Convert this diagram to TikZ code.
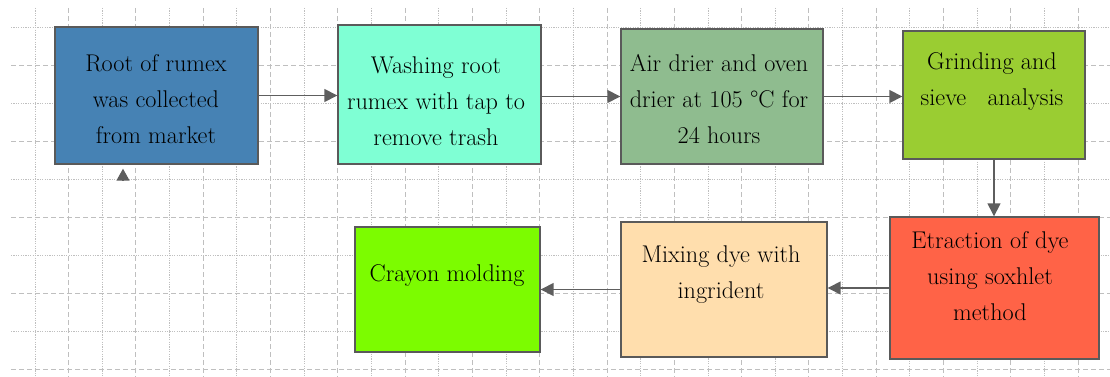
\documentclass[tikz,border=0pt]{standalone}
\usetikzlibrary{arrows.meta}

\definecolor{gridgray}{HTML}{BFBFBF}
\definecolor{edgegray}{HTML}{5A5A5A}
\definecolor{arrowgray}{HTML}{5E5E5E}
\definecolor{boxA}{HTML}{4682B4}
\definecolor{boxB}{HTML}{7FFFD4}
\definecolor{boxC}{HTML}{8FBC8F}
\definecolor{boxD}{HTML}{9ACD32}
\definecolor{boxE}{HTML}{FF6347}
\definecolor{boxF}{HTML}{FFDEAD}
\definecolor{boxG}{HTML}{7CFC00}

\begin{document}
\begin{tikzpicture}[x=1pt,y=-1pt,
  gridminor/.style={draw=gridgray,line width=1pt,dash pattern=on 1.2pt off 1.2pt},
  gridmajor/.style={draw=gridgray,line width=1pt,dash pattern=on 5pt off 3pt},
  stepbox/.style={draw=edgegray,line width=1.4pt,rectangle,inner sep=0pt},
  lbl/.style={align=center,inner sep=0pt,text=black,font=\fontsize{24.2}{36}\selectfont},
  arr/.style={draw=arrowgray,line width=1.5pt,-{Triangle[length=13pt,width=13pt]}}
]
\useasboundingbox (0,0) rectangle (1110,377);

% background grid
\foreach \k in {0,...,31}{
  \pgfmathsetmacro{\gx}{35+33.65*\k}
  \pgfmathparse{int(mod(\k,2))}
  \ifnum\pgfmathresult=0
    \draw[gridminor] (\gx,8) -- (\gx,377);
  \else
    \draw[gridmajor] (\gx,8) -- (\gx,377);
  \fi
}
\foreach \k in {0,...,9}{
  \pgfmathsetmacro{\gy}{28+37.9*\k}
  \pgfmathparse{int(mod(\k,2))}
  \ifnum\pgfmathresult=0
    \draw[gridminor] (11,\gy) -- (1110,\gy);
  \else
    \draw[gridmajor] (11,\gy) -- (1110,\gy);
  \fi
}

% process boxes
\node[stepbox,fill=boxA,minimum width=203pt,minimum height=137pt] (b1) at (156.5,95.5) {};
\node[stepbox,fill=boxB,minimum width=203pt,minimum height=139pt] (b2) at (439.5,94.5) {};
\node[stepbox,fill=boxC,minimum width=202pt,minimum height=135pt] (b3) at (722,96.5) {};
\node[stepbox,fill=boxD,minimum width=182pt,minimum height=128pt] (b4) at (994,95) {};
\node[stepbox,fill=boxE,minimum width=209pt,minimum height=142pt] (b5) at (994.5,288) {};
\node[stepbox,fill=boxF,minimum width=206pt,minimum height=135pt] (b6) at (724,289.5) {};
\node[stepbox,fill=boxG,minimum width=185pt,minimum height=125pt] (b7) at (447.5,289.5) {};

% box texts
\node[lbl] (t1) at (156,99) {Root of rumex\\was collected\\from market};
\node[lbl] (t2) at (436,101) {Washing root\\rumex with tap to\\remove trash};
\node[lbl] (t3) at (719,99) {Air drier and oven\\drier at 105 \textdegree C for\\24 hours};
\node[lbl] (t4) at (992,81) {Grinding and\\sieve\hspace{14pt} analysis};
\node[lbl] (t5) at (990,276) {Etraction of dye\\using soxhlet\\method};
\node[lbl] (t6) at (721,275) {Mixing dye with\\ingrident};
\node[lbl] (t7) at (447,276) {Crayon molding};

% connectors
\draw[arr] (b1.east) -- (b2.west |- b1.east);
\draw[arr] (b2.east |- b3.west) -- (b3.west);
\draw[arr] (b3.east) -- (b4.west |- b3.east);
\draw[arr] (b4.south) -- (b5.north -| b4.south);
\draw[arr] (b5.west) -- (b6.east |- b5.west);
\draw[arr] (b6.west) -- (b7.east |- b6.west);

% loose arrowhead under the first box
\coordinate (s0) at (123,179.5);
\draw[arr,-{Triangle[length=12pt,width=13pt]},shorten >=4pt] (s0) -- (s0 |- b1.south);
\end{tikzpicture}
\end{document}
